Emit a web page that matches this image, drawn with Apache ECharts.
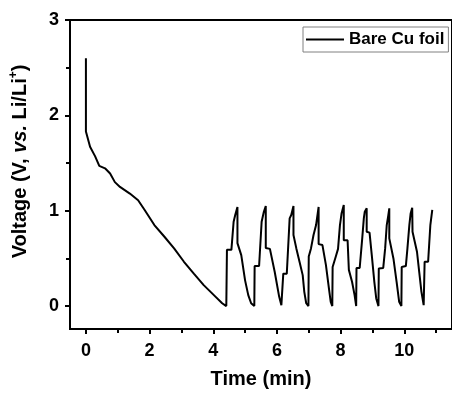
<!DOCTYPE html>
<html>
<head>
<meta charset="utf-8">
<script src="https://cdn.jsdelivr.net/npm/echarts@6/dist/echarts.min.js"></script>
<style>
html,body{margin:0;padding:0;background:#fff;}
#chart{width:452px;height:396px;}
</style>
</head>
<body>
<div id="chart"></div>
<script>
// Time (min)
var timeMin = [
  0.00, 0.00, 0.13, 0.29, 0.42, 0.60, 0.76, 0.91, 1.07, 1.38, 1.64, 1.84, 2.15, 2.46, 2.77, 3.08, 3.39, 3.70, 4.02, 4.28, 4.41,
  4.43, 4.57, 4.64, 4.69, 4.76, 4.76, 4.88, 5.00, 5.10, 5.19, 5.29,
  5.30, 5.44, 5.52, 5.59, 5.65, 5.65, 5.78, 5.93, 6.07, 6.14, 6.19,
  6.20, 6.31, 6.40, 6.45, 6.52, 6.52, 6.61, 6.71, 6.81, 6.86, 6.92, 6.99,
  7.00, 7.07, 7.15, 7.23, 7.31, 7.31, 7.43, 7.54, 7.64, 7.69, 7.74,
  7.75, 7.85, 7.92, 7.98, 8.03, 8.10, 8.10, 8.22, 8.26, 8.36, 8.44, 8.49,
  8.50, 8.60, 8.68, 8.73, 8.76, 8.82, 8.82, 8.91, 8.98, 9.06, 9.12, 9.19,
  9.20, 9.34, 9.40, 9.45, 9.50, 9.53, 9.53, 9.56, 9.66, 9.76, 9.84, 9.91,
  9.92, 10.05, 10.10, 10.16, 10.20, 10.25, 10.26, 10.33, 10.40, 10.47, 10.54, 10.61, 10.63,
  10.64, 10.75, 10.82, 10.88
];
// Voltage (V vs. Li/Li+)
var voltage = [
  2.60, 1.83, 1.67, 1.57, 1.47, 1.445, 1.39, 1.30, 1.25, 1.18, 1.11, 1.01, 0.85, 0.73, 0.605, 0.465, 0.34, 0.22, 0.115, 0.03, 0.00,
  0.59, 0.59, 0.885, 0.955, 1.04, 0.66, 0.535, 0.27, 0.115, 0.03, 0.00,
  0.42, 0.42, 0.885, 0.99, 1.05, 0.61, 0.60, 0.36, 0.10, 0.01, 0.00,
  0.34, 0.34, 0.92, 0.955, 1.05, 0.745, 0.605, 0.465, 0.325, 0.15, 0.03, 0.00,
  0.52, 0.605, 0.745, 0.85, 1.04, 0.65, 0.64, 0.43, 0.17, 0.045, 0.00,
  0.41, 0.52, 0.60, 0.85, 0.97, 1.06, 0.69, 0.69, 0.38, 0.255, 0.115, 0.00,
  0.40, 0.40, 0.71, 0.92, 0.99, 1.025, 0.78, 0.77, 0.535, 0.255, 0.08, 0.00,
  0.395, 0.40, 0.605, 0.85, 0.955, 1.025, 0.71, 0.71, 0.50, 0.255, 0.045, 0.00,
  0.41, 0.42, 0.605, 0.85, 0.97, 1.03, 0.78, 0.675, 0.57, 0.36, 0.15, 0.01, 0.00,
  0.465, 0.465, 0.85, 1.01
];
var xMajorTicks = [0, 2, 4, 6, 8, 10];
var xMinorTicks = [1, 3, 5, 7, 9, 11];
var yMajorTicks = [0, 1, 2, 3];
var yMinorTicks = [0.5, 1.5, 2.5];
var seriesName = 'Bare Cu foil';

var font = 'Arial, "Liberation Sans", sans-serif';
var data = timeMin.map(function (t, i) { return [t, voltage[i]]; });

var X_MIN = -0.5, X_MAX = 11.5, Y_MIN = -0.24, Y_MAX = 3;

function tickAxis(min, max, pos, ticks, len) {
  return {
    type: 'value', min: min, max: max, position: pos,
    splitLine: {show: false},
    axisLine: {show: false, onZero: false},
    axisTick: {show: true, inside: false, length: len, customValues: ticks, lineStyle: {color: '#000', width: 2}},
    axisLabel: {show: false, customValues: ticks}
  };
}

var chart = echarts.init(document.getElementById('chart'), null, {renderer: 'canvas'});
chart.setOption({
  backgroundColor: '#ffffff',
  animation: false,
  grid: {left: 68, top: 20, right: -3, bottom: 67, show: true, borderColor: '#000', borderWidth: 2, backgroundColor: 'transparent'},
  legend: {
    left: 303, top: 27,
    data: [seriesName],
    icon: 'rect',
    itemWidth: 38, itemHeight: 2, itemGap: 5,
    padding: [3, 4, 3, 3],
    borderColor: '#808080', borderWidth: 1, borderRadius: 0,
    itemStyle: {color: '#000'},
    textStyle: {fontFamily: font, fontWeight: 'bold', fontSize: 17, color: '#000', lineHeight: 19}
  },
  xAxis: [
    {
      type: 'value', min: X_MIN, max: X_MAX, position: 'bottom',
      splitLine: {show: false},
      name: 'Time (min)', nameLocation: 'middle', nameGap: 40,
      nameTextStyle: {fontFamily: font, fontWeight: 'bold', fontSize: 20, color: '#000'},
      axisLine: {show: true, onZero: false, lineStyle: {color: '#000', width: 2}},
      axisTick: {show: false},
      axisLabel: {show: true, margin: 13, customValues: xMajorTicks, fontFamily: font, fontWeight: 'bold', fontSize: 18, color: '#000'}
    },
    tickAxis(X_MIN, X_MAX, 'bottom', xMajorTicks, 5),
    tickAxis(X_MIN, X_MAX, 'bottom', xMinorTicks, 4)
  ],
  yAxis: [
    {
      type: 'value', min: Y_MIN, max: Y_MAX, position: 'left',
      splitLine: {show: false},
      name: '{n|Voltage (V, }{i|vs.}{n| Li/Li}{s|+}{n|)}', nameLocation: 'middle', nameGap: 38,
      nameTextStyle: {
        fontFamily: font, fontWeight: 'bold', fontSize: 20, color: '#000', padding: [0, 0, 0, 26],
        rich: {
          n: {fontFamily: font, fontWeight: 'bold', fontSize: 20, color: '#000', lineHeight: 24},
          i: {fontFamily: font, fontWeight: 'bold', fontStyle: 'italic', fontSize: 20, color: '#000', lineHeight: 24},
          s: {fontFamily: font, fontWeight: 'bold', fontSize: 12, color: '#000', verticalAlign: 'top', lineHeight: 24}
        }
      },
      axisLine: {show: true, onZero: false, lineStyle: {color: '#000', width: 2}},
      axisTick: {show: false},
      axisLabel: {show: true, margin: 11, customValues: yMajorTicks, fontFamily: font, fontWeight: 'bold', fontSize: 18, color: '#000'}
    },
    tickAxis(Y_MIN, Y_MAX, 'left', yMajorTicks, 5),
    tickAxis(Y_MIN, Y_MAX, 'left', yMinorTicks, 4)
  ],
  series: [{
    name: seriesName,
    type: 'line',
    xAxisIndex: 0, yAxisIndex: 0,
    data: data,
    symbol: 'none',
    showSymbol: false,
    lineStyle: {color: '#000', width: 2},
    itemStyle: {color: '#000'},
    clip: true
  }]
});
</script>
</body>
</html>
